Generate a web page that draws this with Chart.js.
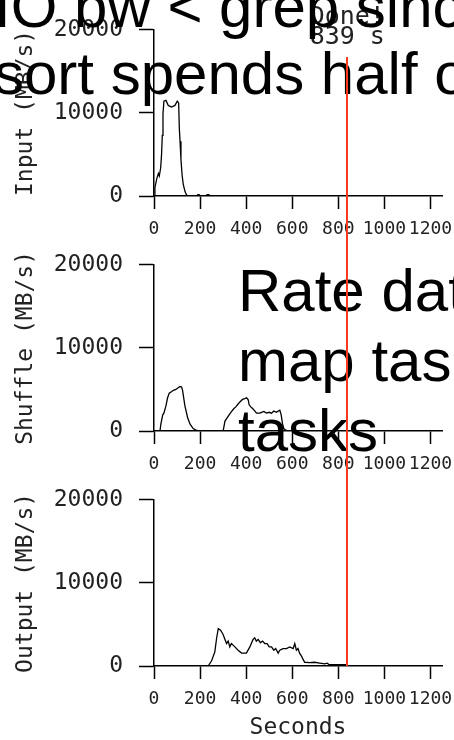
<!DOCTYPE html>
<html lang="en">
<head>
  <meta charset="UTF-8" />
  <title>Sort: input, shuffle and output rates</title>
  <style>
    body {
      margin: 0;
      width: 454px;
      height: 740px;
      overflow: hidden;
      background: #fff;
      position: relative;
      font-family: 'Liberation Sans', Arial, sans-serif;
    }
    .panel {
      position: absolute;
      left: 0;
      z-index: 1;
    }
    #done {
      position: absolute;
      top: 6px;
      width: 120px;
      z-index: 2;
      font-family: 'DejaVu Sans Mono', monospace;
      font-size: 25px;
      line-height: 20px;
      text-align: center;
      color: #222;
    }
    .note {
      position: absolute;
      z-index: 3;
      font-size: 60px;
      color: #000;
      white-space: nowrap;
    }
    #marker {
      position: absolute;
      width: 2px;
      z-index: 4;
      background: #ff3a1c;
    }
  </style>
</head>
<body>

  <canvas id="inputChart" class="panel" width="454" height="235" style="top:0px"></canvas>
  <canvas id="shuffleChart" class="panel" width="454" height="235" style="top:235px"></canvas>
  <canvas id="outputChart" class="panel" width="454" height="270" style="top:470px"></canvas>

  <div id="done">Done!<br>839 s</div>

  <div class="note" style="left:-6px; top:-27px; line-height:67px;">
    IO bw &lt; grep since<br>sort spends half of
  </div>
  <div class="note" style="left:238px; top:256px; line-height:70px;">
    Rate data<br>map tasks<br>tasks
  </div>

  <div id="marker"></div>

  <script src="https://cdn.jsdelivr.net/npm/chart.js"></script>
  <script>
    // axis ticks
    const xTicks = [0, 200, 400, 600, 800, 1000, 1200];
    const yTicks = [0, 10000, 20000];
    const doneTime = 839;

    // Input rate (MB/s)
    const inputTimes = [0, 4, 12, 19, 23, 29, 33, 36, 39, 43, 52, 62, 76, 91, 101, 107, 110, 113, 117, 122, 127, 135, 142, 150, 185, 190, 196, 200, 226, 230, 238, 245];
    const inputRates = [0, 1000, 2100, 2700, 2400, 3400, 5100, 7300, 9900, 11400, 11500, 10900, 10700, 10900, 11400, 11200, 8100, 6600, 4400, 2500, 1400, 500, 100, 0, 0, 150, 150, 0, 0, 150, 150, 0];

    // Shuffle rate (MB/s)
    const shuffleTimes = [0, 26, 30, 38, 43, 52, 59, 66, 77, 84, 95, 105, 113, 120, 124, 134, 146, 156, 170, 182, 195, 300, 308, 318, 326, 337, 347, 355, 365, 373, 384, 394, 402, 409, 413, 420, 428, 438, 445, 459, 467, 477, 488, 500, 510, 520, 532, 539, 546, 552, 558, 563, 572, 580];
    const shuffleRates = [0, 0, 850, 1950, 2150, 3050, 4000, 4550, 4750, 4900, 5000, 5200, 5350, 5300, 4900, 3050, 1600, 850, 300, 100, 0, 0, 1200, 1600, 1950, 2350, 2700, 2900, 3250, 3500, 3800, 3900, 4000, 3750, 3150, 2900, 2700, 2400, 2150, 2150, 2250, 2350, 2150, 2250, 2150, 2400, 2250, 2400, 2500, 1950, 850, 300, 100, 0];

    // Output rate (MB/s)
    const outputTimes = [0, 235, 250, 264, 272, 279, 289, 300, 308, 315, 322, 329, 336, 351, 365, 380, 401, 416, 430, 437, 444, 452, 462, 471, 481, 491, 500, 510, 520, 528, 539, 546, 560, 575, 589, 604, 611, 618, 625, 632, 640, 647, 654, 676, 697, 719, 741, 751, 762, 791, 835, 839];
    const outputRates = [0, 0, 630, 1700, 3400, 4500, 4300, 3800, 3200, 2700, 3000, 2300, 2700, 2300, 1900, 1550, 1550, 2300, 3200, 3400, 3000, 3200, 2800, 3000, 2700, 2700, 2300, 2300, 1900, 2100, 1550, 1900, 2100, 2100, 2300, 2100, 2700, 1900, 2100, 1550, 1200, 800, 450, 400, 450, 350, 260, 350, 150, 150, 150, 0];

    const tickFont = { family: "'DejaVu Sans Mono', monospace", size: 18 };
    const labelFont = { family: "'DejaVu Sans Mono', monospace", size: 23 };

    function toPoints(times, rates) {
      return times.map((t, i) => ({ x: t, y: rates[i] }));
    }

    function makePanel(id, times, rates, yTitle, xTitle) {
      const canvas = document.getElementById(id);
      const h = canvas.height;
      return new Chart(canvas, {
        type: 'line',
        data: {
          datasets: [{
            data: toPoints(times, rates),
            borderColor: '#000',
            borderWidth: 1.3,
            pointRadius: 0,
            tension: 0,
            fill: false
          }]
        },
        options: {
          responsive: false,
          animation: false,
          layout: { padding: { top: 16, right: 12, left: 0, bottom: 0 } },
          plugins: {
            legend: { display: false },
            tooltip: { enabled: false }
          },
          scales: {
            x: {
              type: 'linear',
              min: 0,
              max: 1250,
              afterBuildTicks: s => { s.ticks = xTicks.map(v => ({ value: v })); },
              afterFit: s => {
                s.height = h - 196;
                // the axis runs past the last label, so no room is reserved for it
                s.paddingLeft = 0;
                s.paddingRight = 0;
              },
              grid: { drawOnChartArea: false, tickLength: 13, tickWidth: 1.5, tickColor: '#000' },
              border: { color: '#000', width: 1.5 },
              ticks: {
                color: '#222',
                padding: 10,
                maxRotation: 0,
                autoSkip: false,
                font: tickFont,
                callback: v => String(v)
              },
              title: {
                display: !!xTitle,
                text: xTitle || '',
                color: '#222',
                font: Object.assign({ lineHeight: 1 }, labelFont),
                padding: { top: 0, bottom: 0 }
              }
            },
            y: {
              min: 0,
              max: 20000,
              afterBuildTicks: s => { s.ticks = yTicks.map(v => ({ value: v })); },
              afterFit: s => { s.width = 154; },
              grid: { drawOnChartArea: false, tickLength: 15, tickWidth: 1.5, tickColor: '#000' },
              border: { color: '#000', width: 1.5 },
              ticks: {
                color: '#222',
                padding: 16,
                font: labelFont,
                callback: v => String(v)
              },
              title: {
                display: true,
                text: yTitle,
                color: '#222',
                font: labelFont,
                padding: { top: 12, bottom: 0 }
              }
            }
          }
        }
      });
    }

    const inputChart = makePanel('inputChart', inputTimes, inputRates, 'Input (MB/s)');
    const shuffleChart = makePanel('shuffleChart', shuffleTimes, shuffleRates, 'Shuffle (MB/s)');
    const outputChart = makePanel('outputChart', outputTimes, outputRates, 'Output (MB/s)', 'Seconds');

    // vertical "done" marker across all three panels
    const doneX = inputChart.scales.x.getPixelForValue(doneTime);
    const markerBottom = 470 + outputChart.scales.y.getPixelForValue(0);
    const marker = document.getElementById('marker');
    marker.style.left = (doneX - 1) + 'px';
    marker.style.top = '57px';
    marker.style.height = (markerBottom - 57) + 'px';

    document.getElementById('done').style.left = (doneX - 60) + 'px';
  </script>
</body>
</html>
